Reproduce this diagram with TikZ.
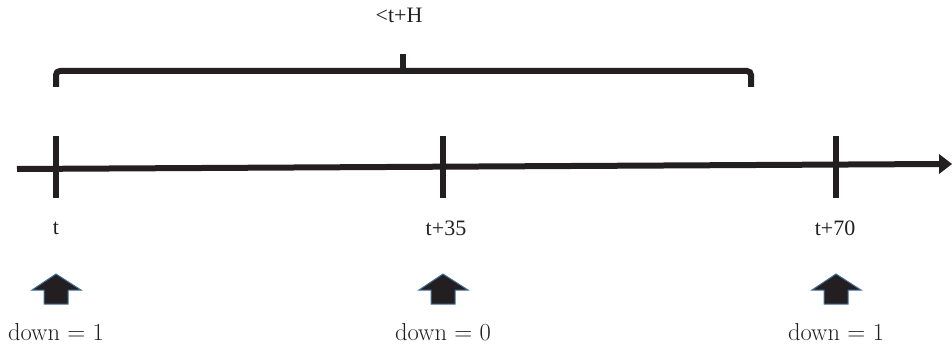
\documentclass[tikz,border=0pt]{standalone}
\usepackage{fontspec}
\setmainfont{Liberation Serif}
\newfontfamily\lmfont{Latin Modern Roman}
\definecolor{ink}{HTML}{231F20}
\definecolor{outl}{HTML}{41719C}
\begin{document}
\begin{tikzpicture}[x=1pt,y=-1pt,
  axisline/.style={line width=6pt,draw=ink},
  tickline/.style={line width=6.5pt,draw=ink},
  bracketline/.style={line width=6pt,draw=ink,rounded corners=4pt},
  ticklabel/.style={font=\fontsize{22}{26}\selectfont,text=ink,inner sep=0pt},
  downlabel/.style={font=\lmfont\fontsize{24.5}{28}\selectfont,text=ink,inner sep=0pt},
  blockarrow/.style={fill=ink,draw=outl,line width=1pt}
]
\useasboundingbox (0,0) rectangle (952,347);
% axis
\coordinate (a0) at (17,169);
\coordinate (a1) at (941,164);
\draw[axisline] (a0) -- (a1);
\fill[ink] (939,154) -- (952,164) -- (939,174) -- cycle;
% ticks
\foreach \n/\x in {t1/56,t2/443,t3/836}{
  \coordinate (\n top) at (\x,136);
  \coordinate (\n bot) at (\x,198);
  \draw[tickline] (\n top) -- (\n bot);
}
% bracket
\coordinate (bl) at (56,87);
\coordinate (br) at (751,87);
\coordinate (bm) at (403,71);
\coordinate (bn) at (403,54);
\draw[bracketline] (bl) -- (56,71) -- (751,71) -- (br);
\draw[line width=6pt,draw=ink] (bm) -- (bn);
% labels
\node[ticklabel] (H) at (399,15) {<t+H};
\node[ticklabel] (l1) at (56,228) {t};
\node[ticklabel] (l2) at (446,228) {t+35};
\node[ticklabel] (l3) at (835,228) {t+70};
% block arrows
\foreach \n/\x in {u1/56,u2/443,u3/836}{
  \draw[blockarrow] (\x-12,304) -- (\x-12,290) -- (\x-24,290) -- (\x,274) -- (\x+25,290) -- (\x+12,290) -- (\x+12,304) -- cycle;
}
\node[downlabel] (d1) at (56,332) {down $=$ 1};
\node[downlabel] (d2) at (443,332) {down $=$ 0};
\node[downlabel] (d3) at (836,332) {down $=$ 1};
\end{tikzpicture}
\end{document}
